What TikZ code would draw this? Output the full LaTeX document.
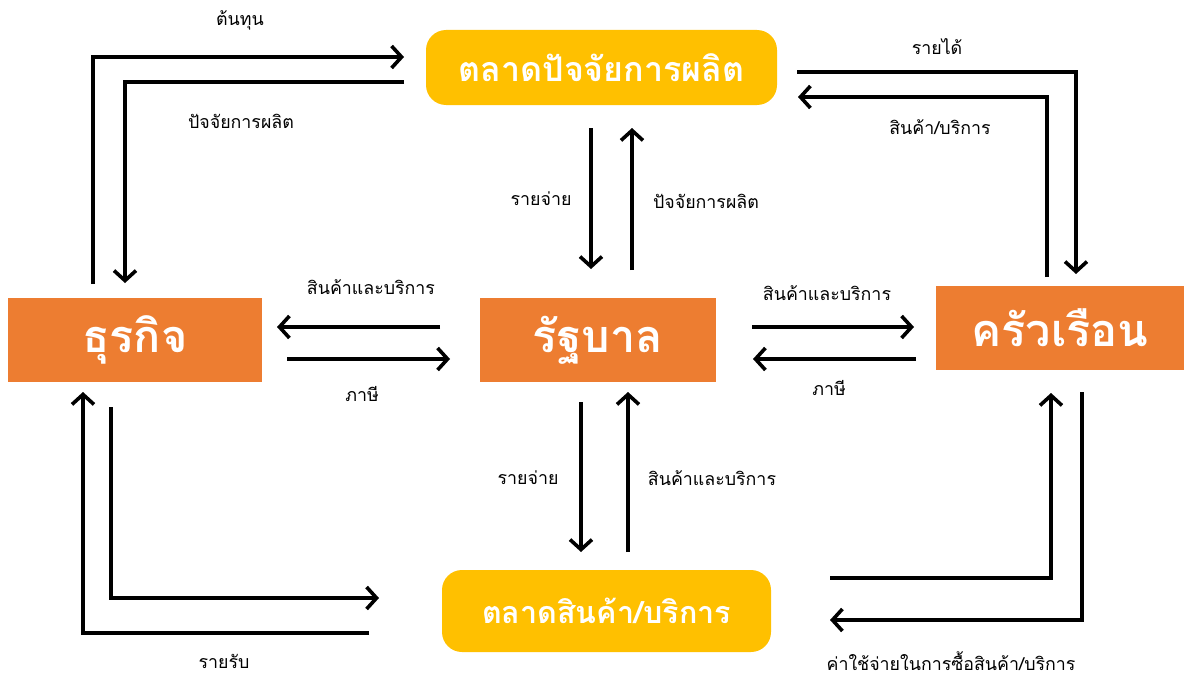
\documentclass[tikz,border=0pt]{standalone}
\usepackage{fontspec}
\newfontfamily\thai[Script=Thai]{Loma}
\usetikzlibrary{arrows.meta}
\definecolor{mkt}{HTML}{FFC000}
\definecolor{org}{HTML}{ED7D31}
\begin{document}
\begin{tikzpicture}[x=1pt,y=-1pt,
  flow/.style={line width=3.6pt, line join=miter, -{Straight Barb[length=10pt,width=22pt]}},
  lbl/.style={font=\thai\fontsize{17.8}{20}\selectfont, inner sep=0pt},
  market/.style={fill=mkt, rounded corners=20pt, text=white, inner sep=0pt},
  actor/.style={fill=org, text=white, font=\thai\bfseries\fontsize{45}{48}\selectfont, inner sep=0pt}]
\useasboundingbox (0,0) rectangle (1184,677);
% nodes
\node[market, font=\thai\bfseries\fontsize{34}{38}\selectfont, minimum width=351pt, minimum height=75pt] (top) at (601.5,67.5) {ตลาดปัจจัยการผลิต};
\node[market, font=\thai\bfseries\fontsize{30.5}{34}\selectfont, minimum width=329pt, minimum height=82pt] (bot) at (606.5,611) {ตลาดสินค้า/บริการ};
\node[actor, minimum width=254pt, minimum height=84pt] (biz) at (135,340) {ธุรกิจ};
\node[actor, minimum width=236pt, minimum height=84pt] (gov) at (598,340) {รัฐบาล};
\node[actor, minimum width=248pt, minimum height=84pt] (hh) at (1060,328) {ครัวเรือน};
% coordinates
\coordinate (a1) at (93,284);   \coordinate (a2) at (404,57);
\coordinate (b1) at (404,82);   \coordinate (b2) at (125,283);
\coordinate (c1) at (797,72);   \coordinate (c2) at (1076,274);
\coordinate (d1) at (1047,277); \coordinate (d2) at (798,97);
\coordinate (e1) at (591,128);  \coordinate (e2) at (591,269);
\coordinate (f1) at (632,270);  \coordinate (f2) at (632,128);
\coordinate (g1) at (440,327);  \coordinate (g2) at (277,327);
\coordinate (h1) at (287,359);  \coordinate (h2) at (450,359);
\coordinate (i1) at (752,327);  \coordinate (i2) at (914,327);
\coordinate (j1) at (916,359);  \coordinate (j2) at (753,359);
\coordinate (k1) at (581,402);  \coordinate (k2) at (581,552);
\coordinate (l1) at (628,552);  \coordinate (l2) at (628,392);
\coordinate (m1) at (111,407);  \coordinate (m2) at (379,598);
\coordinate (n1) at (369,633);  \coordinate (n2) at (83,392);
\coordinate (o1) at (830,578);  \coordinate (o2) at (1051,393);
\coordinate (p1) at (1082,392); \coordinate (p2) at (830,620);
% connectors
\draw[flow] (a1) |- (a2);
\draw[flow] (b1) -| (b2);
\draw[flow] (c1) -| (c2);
\draw[flow] (d1) |- (d2);
\draw[flow] (e1) -- (e2);
\draw[flow] (f1) -- (f2);
\draw[flow] (g1) -- (g2);
\draw[flow] (h1) -- (h2);
\draw[flow] (i1) -- (i2);
\draw[flow] (j1) -- (j2);
\draw[flow] (k1) -- (k2);
\draw[flow] (l1) -- (l2);
\draw[flow] (m1) |- (m2);
\draw[flow] (n1) -| (n2);
\draw[flow] (o1) -| (o2);
\draw[flow] (p1) |- (p2);
% labels
\node[lbl] (t1) at (240,20) {ต้นทุน};
\node[lbl] (t2) at (241,121) {ปัจจัยการผลิต};
\node[lbl] (t3) at (937,47) {รายได้};
\node[lbl] (t4) at (940,127) {สินค้า/บริการ};
\node[lbl] (t5) at (541,199) {รายจ่าย};
\node[lbl] (t6) at (706,201) {ปัจจัยการผลิต};
\node[lbl] (t7) at (371,287) {สินค้าและบริการ};
\node[lbl] (t8) at (362,394) {ภาษี};
\node[lbl] (t9) at (827,293) {สินค้าและบริการ};
\node[lbl] (t10) at (829,388) {ภาษี};
\node[lbl] (t11) at (528,478) {รายจ่าย};
\node[lbl] (t12) at (712,478) {สินค้าและบริการ};
\node[lbl] (t13) at (224,661) {รายรับ};
\node[lbl] (t14) at (951,661) {ค่าใช้จ่ายในการซื้อสินค้า/บริการ};
\end{tikzpicture}
\end{document}
